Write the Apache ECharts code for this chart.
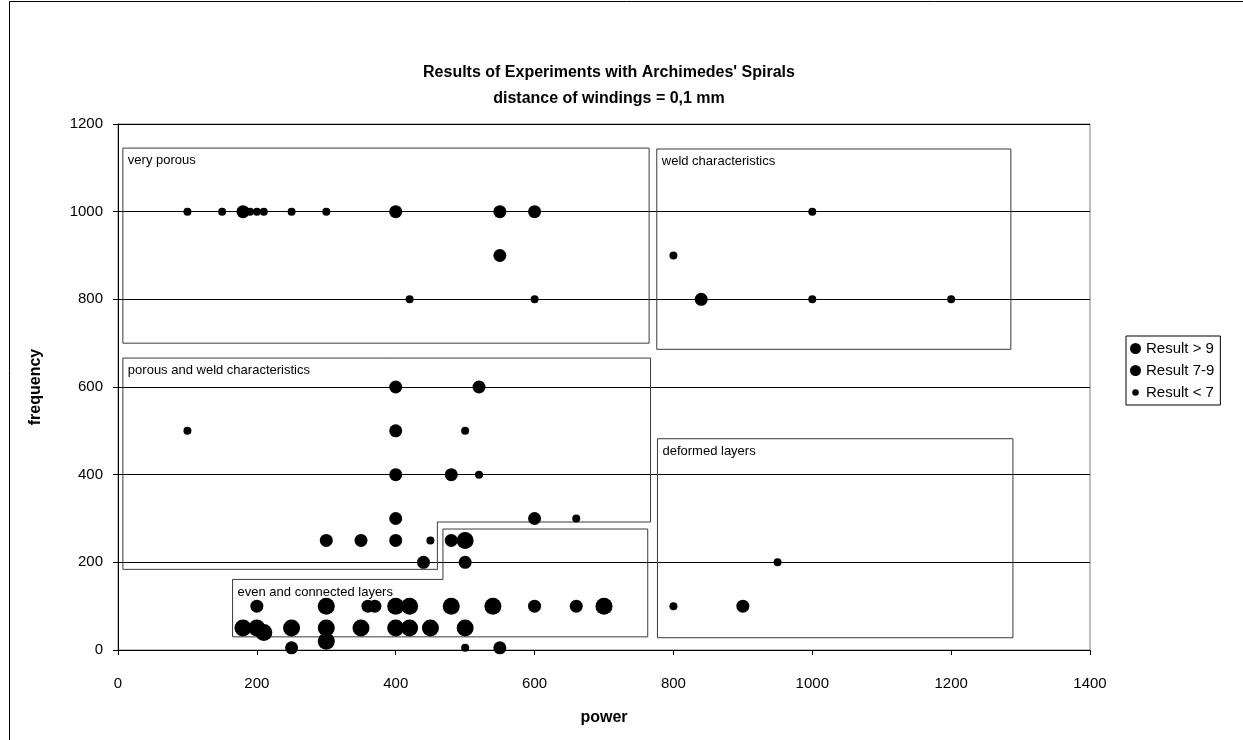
<!DOCTYPE html>
<html>
<head>
<meta charset="utf-8">
<script src="https://cdn.jsdelivr.net/npm/echarts@6/dist/echarts.min.js"></script>
<style>
  html, body { margin: 0; padding: 0; background: #fff; }
  #main { width: 1243px; height: 740px; }
</style>
</head>
<body>
<div id="main"></div>
<script>
// points [power, frequency]
var resultAbove9 = [
    [300, 100], [400, 100], [420, 100], [480, 100], [540, 100], [700, 100],
    [500, 250], [180, 50], [200, 50], [210, 40], [250, 50], [300, 50],
    [350, 50], [400, 50], [420, 50], [450, 50], [500, 50], [300, 20]
];
var result7to9 = [
    [180, 1000], [400, 1000], [550, 1000], [600, 1000], [550, 900],
    [840, 800], [900, 100],
    [400, 600], [520, 600], [400, 500], [400, 400], [480, 400], [400, 300],
    [600, 300], [300, 250], [350, 250], [400, 250], [480, 250], [440, 200], [500, 200],
    [200, 100], [360, 100], [370, 100], [600, 100], [660, 100], [250, 5], [550, 5]
];
var resultBelow7 = [
    [100, 1000], [150, 1000], [190, 1000], [200, 1000], [210, 1000], [250, 1000],
    [300, 1000], [420, 800], [600, 800],
    [800, 900], [1000, 1000], [1000, 800], [1200, 800],
    [800, 100], [950, 200],
    [100, 500], [500, 500], [520, 400], [660, 300], [450, 250], [500, 5]
];

var seriesNames = ['Result > 9', 'Result 7-9', 'Result < 7'];

// regions (outline in data units, first point = top left)
var regionNames = ['very porous', 'weld characteristics', 'porous and weld characteristics',
    'deformed layers', 'even and connected layers'];
var regionPolys = [
    [[7, 1145], [765, 1145], [765, 700], [7, 700]],
    [[776, 1143], [1286, 1143], [1286, 686], [776, 686]],
    [[7, 666], [767, 666], [767, 292], [460, 292], [460, 184], [7, 184]],
    [[777, 482], [1289, 482], [1289, 28], [777, 28]],
    [[165, 161], [468, 161], [468, 276], [763, 276], [763, 30], [165, 30]]
];

var font = 'Arial, "Liberation Sans", sans-serif';
// small legend dot: the extra moveTo points keep the circle small inside the icon box
var smallDot = 'path://M0,0 M22,22 M4.5,11 A6.5,6.5 0 1,1 17.5,11 A6.5,6.5 0 1,1 4.5,11 Z';

var myChart = echarts.init(document.getElementById('main'));

option = {
    backgroundColor: '#fff',
    animation: false,
    title: {
        text: "Results of Experiments with Archimedes' Spirals\ndistance of windings = 0,1 mm",
        left: 604,
        top: 55,
        textAlign: 'center',
        textStyle: {
            fontFamily: font,
            fontSize: 16,
            fontWeight: 'bold',
            color: '#000',
            lineHeight: 26
        }
    },
    graphic: [{
        type: 'polyline',
        shape: { points: [[1243, 1.5], [9.5, 1.5], [9.5, 740]] },
        style: { stroke: '#000', lineWidth: 1, fill: null }
    }],
    legend: {
        orient: 'vertical',
        left: 1126,
        top: 336,
        data: [
            { name: seriesNames[0], icon: 'circle' },
            { name: seriesNames[1], icon: 'circle' },
            { name: seriesNames[2], icon: smallDot }
        ],
        itemWidth: 11,
        itemHeight: 11,
        itemGap: 7,
        padding: [5, 6, 5, 4],
        borderColor: '#000',
        borderWidth: 1,
        textStyle: { fontFamily: font, fontSize: 15, color: '#000' }
    },
    grid: {
        left: 118,
        right: 153,
        top: 124,
        bottom: 90,
        show: true,
        borderColor: '#808080',
        borderWidth: 1
    },
    xAxis: {
        type: 'value',
        min: 0,
        max: 1400,
        interval: 200,
        name: 'power',
        nameLocation: 'middle',
        nameGap: 60,
        nameTextStyle: { fontFamily: font, fontSize: 16, fontWeight: 'bold', color: '#000' },
        axisLine: { lineStyle: { color: '#000', width: 1 } },
        axisTick: { show: true, length: 5, lineStyle: { color: '#000' } },
        axisLabel: {
            fontFamily: font, fontSize: 15, color: '#000', margin: 26,
            formatter: function (v) { return String(v); }
        },
        splitLine: { show: false }
    },
    yAxis: {
        type: 'value',
        min: 0,
        max: 1200,
        interval: 200,
        name: 'frequency',
        nameLocation: 'middle',
        nameGap: 74,
        nameTextStyle: { fontFamily: font, fontSize: 16, fontWeight: 'bold', color: '#000' },
        axisLine: { show: true, lineStyle: { color: '#000', width: 1 } },
        axisTick: { show: true, length: 5, lineStyle: { color: '#000' } },
        axisLabel: {
            fontFamily: font, fontSize: 15, color: '#000', margin: 15,
            formatter: function (v) { return String(v); }
        },
        splitLine: { show: true, lineStyle: { color: '#000', width: 1 } }
    },
    series: [{
        type: 'custom',
        silent: true,
        clip: false,
        z: 1,
        data: regionPolys.map(function (p) { return [p[0][0], p[0][1]]; }),
        renderItem: function (params, api) {
            var pts = regionPolys[params.dataIndex].map(function (p) { return api.coord(p); });
            return {
                type: 'group',
                children: [{
                    type: 'polygon',
                    shape: { points: pts },
                    style: { fill: 'none', stroke: '#3a3a3a', lineWidth: 1 }
                }, {
                    type: 'text',
                    x: pts[0][0] + 5,
                    y: pts[0][1] + 6,
                    style: {
                        text: regionNames[params.dataIndex],
                        fill: '#000',
                        font: '13px ' + font,
                        verticalAlign: 'top'
                    }
                }]
            };
        }
    }, {
        name: seriesNames[0],
        type: 'scatter',
        symbol: 'circle',
        symbolSize: 17,
        itemStyle: { color: '#000', opacity: 1 },
        z: 3,
        data: resultAbove9
    }, {
        name: seriesNames[1],
        type: 'scatter',
        symbol: 'circle',
        symbolSize: 13,
        itemStyle: { color: '#000', opacity: 1 },
        z: 3,
        data: result7to9
    }, {
        name: seriesNames[2],
        type: 'scatter',
        symbol: 'circle',
        symbolSize: 8,
        itemStyle: { color: '#000', opacity: 1 },
        z: 3,
        data: resultBelow7
    }]
};
myChart.setOption(option);
</script>
</body>
</html>
